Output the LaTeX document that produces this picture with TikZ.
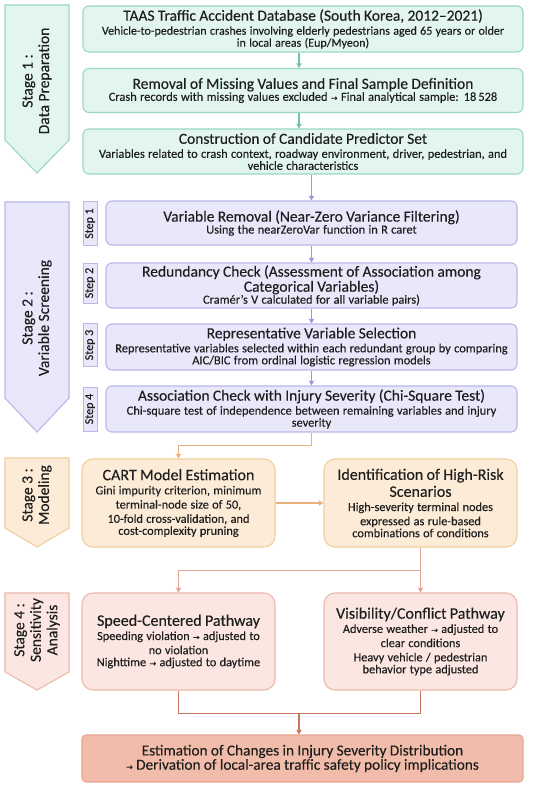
\documentclass[tikz,border=0pt]{standalone}
\usepackage{fontspec}
\setmainfont{Carlito}[FakeBold=0.2]
\newfontfamily\arrfont{DejaVu Sans}[FakeBold=0.2]
\usetikzlibrary{arrows.meta}
\definecolor{txt}{HTML}{1E1E1E}
\definecolor{gfill}{HTML}{E2F5EE}
\definecolor{gline}{HTML}{9BD9C1}
\definecolor{garrow}{HTML}{6CC4A0}
\definecolor{pfill}{HTML}{E9E8FB}
\definecolor{pline}{HTML}{BAB7EB}
\definecolor{parrow}{HTML}{9C97E0}
\definecolor{ofill}{HTML}{FCEBD6}
\definecolor{oline}{HTML}{F1CE9F}
\definecolor{oarrow}{HTML}{E8B07A}
\definecolor{rfill}{HTML}{FBE6E2}
\definecolor{rline}{HTML}{EDB9AC}
\definecolor{rarrow}{HTML}{E2A595}
\definecolor{darrow}{HTML}{C8755F}
\definecolor{ffill}{HTML}{F2BCAA}
\definecolor{fline}{HTML}{E6A590}
\newcommand{\ttl}{\fontsize{15.5}{17}\selectfont}
\newcommand{\sub}{\fontsize{12.4}{14}\selectfont}
\newcommand{\cttl}{\fontsize{16}{17}\selectfont}
\newcommand{\csub}{\fontsize{12.3}{14.2}\selectfont}
\newcommand{\rarr}{{\arrfont\fontsize{8}{8}\selectfont →}}
\tikzset{
  box/.style={line width=1.1pt, rounded corners=6pt, align=center, inner sep=0pt, text=txt},
  gbox/.style={box, fill=gfill, draw=gline},
  pbox/.style={box, fill=pfill, draw=pline},
  obox/.style={box, fill=ofill, draw=oline, rounded corners=11pt},
  rbox/.style={box, fill=rfill, draw=rline, rounded corners=11pt},
  fbox/.style={box, fill=ffill, draw=fline, rounded corners=4pt},
  stepbox/.style={draw=pline, fill=pfill, line width=1pt, inner xsep=0pt, inner ysep=1.5pt, rotate=90, font=\fontsize{12}{13}\selectfont, text=txt, text height=8.5pt, text depth=2.5pt},
  stagetext/.style={rotate=90, align=center, font=\fontsize{15.5}{16.5}\selectfont, text=txt},
  tip/.style={-{Triangle[width=5pt,length=4.5pt]}},
  conn/.style={line width=1.2pt},
}
\begin{document}
\begin{tikzpicture}[x=1pt,y=-1pt]
\useasboundingbox (0,0) rectangle (550,786);
\fill[white] (0,0) rectangle (550,786);
% stage labels
\draw[fill=gfill, draw=gline, line width=1.1pt] (5,5) -- (69,5) -- (69,140) -- (37,173) -- (5,140) -- cycle;
\node[stagetext] (st1) at (37,81) {Stage 1 :\\Data Preparation};
\draw[fill=pfill, draw=pline, line width=1.1pt] (5,202) -- (69,202) -- (69,398) -- (37,432) -- (5,398) -- cycle;
\node[stagetext] (st2) at (37,318) {Stage 2 :\\Variable Screening};
\draw[fill=ofill, draw=oline, line width=1.1pt] (5,458) -- (69,458) -- (69,528) -- (37,547) -- (5,528) -- cycle;
\node[stagetext] (st3) at (37,495) {Stage 3 :\\Modeling};
\draw[fill=rfill, draw=rline, line width=1.1pt] (5,593) -- (69,593) -- (69,672) -- (37,690) -- (5,672) -- cycle;
\node[stagetext] (st4) at (37,630) {Stage 4 :\\Sensitivity\\Analysis};
% stage 1 boxes
\node[gbox, minimum width=440pt, minimum height=46pt, text width=436pt] (b1) at (303,29)
 {{\ttl TAAS Traffic Accident Database (South Korea, 2012--2021)\par}\fontsize{12}{14}\selectfont \makebox[0pt]{Vehicle-to-pedestrian crashes involving elderly pedestrians aged 65 years or older}\\in local areas (Eup/Myeon)};
\node[gbox, minimum width=440pt, minimum height=44pt, text width=436pt] (b2) at (303,90.5)
 {{\ttl Removal of Missing Values and Final Sample Definition\par}\sub Crash records with missing values excluded \rarr{} Final analytical sample: 18\,528};
\node[gbox, minimum width=440pt, minimum height=45pt, text width=436pt] (b3) at (303,151.5)
 {{\ttl Construction of Candidate Predictor Set\par}\sub Variables related to crash context, roadway environment, driver, pedestrian, and\\vehicle characteristics};
% stage 2 boxes
\node[pbox, minimum width=411pt, minimum height=44pt, text width=405pt] (s1) at (311.5,223)
 {{\ttl Variable Removal (Near-Zero Variance Filtering)\par}\sub Using the nearZeroVar function in R caret};
\node[pbox, minimum width=411pt, minimum height=45pt, text width=405pt] (s2) at (311.5,285.5)
 {{\fontsize{15.5}{15}\selectfont Redundancy Check (Assessment of Association among\\Categorical Variables)\par}\fontsize{12.4}{13}\selectfont Cramér’s V calculated for all variable pairs)};
\node[pbox, minimum width=411pt, minimum height=46pt, text width=405pt] (s3) at (311.5,347)
 {{\ttl Representative Variable Selection\par}\sub Representative variables selected within each redundant group by comparing\\AIC/BIC from ordinal logistic regression models};
\node[pbox, minimum width=411pt, minimum height=46pt, text width=405pt] (s4) at (311.5,409)
 {{\ttl Association Check with Injury Severity (Chi-Square Test)\par}\sub Chi-square test of independence between remaining variables and injury\\severity};
\node[stepbox, minimum width=43pt] (p1) at (90,223.5) {Step 1};
\node[stepbox, minimum width=40pt] (p2) at (90,283) {Step 2};
\node[stepbox, minimum width=43pt] (p3) at (90,345) {Step 3};
\node[stepbox, minimum width=44pt] (p4) at (90,409) {Step 4};
% stage 3 boxes
\node[obox, minimum width=193pt, minimum height=88pt, text width=189pt] (cart) at (178.5,503)
 {{\cttl CART Model Estimation\par}\csub Gini impurity criterion, minimum\\terminal-node size of 50,\\10-fold cross-validation, and\\cost-complexity pruning};
\node[obox, minimum width=193pt, minimum height=88pt, text width=189pt] (hr) at (420.5,503)
 {{\cttl Identification of High-Risk\\Scenarios\par}\csub High-severity terminal nodes\\expressed as rule-based\\combinations of conditions};
% stage 4 boxes
\node[rbox, minimum width=193pt, minimum height=97pt, text width=189pt] (speed) at (178.5,641.5)
 {{\cttl Speed-Centered Pathway\par}\csub Speeding violation \rarr{} adjusted to\\no violation\\Nighttime \rarr{} adjusted to daytime};
\node[rbox, minimum width=193pt, minimum height=97pt, text width=189pt] (vis) at (420.5,641.5)
 {{\cttl Visibility/Conflict Pathway\par}\csub Adverse weather \rarr{} adjusted to\\clear conditions\\Heavy vehicle / pedestrian\\behavior type adjusted};
\node[fbox, minimum width=441pt, minimum height=47pt, text width=435pt] (fin) at (302.5,758.5)
 {\fontsize{15.3}{18.5}\selectfont Estimation of Changes in Injury Severity Distribution\\\rarr{} Derivation of local-area traffic safety policy implications};
% connectors
\draw[conn, tip, draw=garrow] ([xshift=-4pt]b1.south) -- ([xshift=-4pt]b2.north);
\draw[conn, tip, draw=garrow] ([xshift=-4pt]b2.south) -- ([xshift=-4pt]b3.north);
\draw[conn, tip, draw=parrow] (b3.south -| s1.north) -- (s1.north);
\draw[conn, tip, draw=parrow] (s1.south) -- (s2.north);
\draw[conn, tip, draw=parrow] (s2.south) -- (s3.north);
\draw[conn, tip, draw=parrow] (s3.south) -- (s4.north);
\draw[conn, tip, draw=oarrow] (s4.south) -- ++(0,13) -| (cart.north);
\draw[conn, tip, draw=oarrow] (cart.east) -- (hr.west);
\draw[conn, tip, draw=rarrow] (hr.south) -- (vis.north);
\coordinate (sp) at ([yshift=-23pt]hr.south);
\draw[conn, tip, draw=rarrow] (sp) -| (speed.north);
\draw[conn, draw=darrow] (speed.south) -- ++(0,23) -| (vis.south);
\coordinate (jn) at (299,713);
\draw[conn, tip, draw=darrow] (jn) -- (jn |- fin.north);
\end{tikzpicture}
\end{document}
